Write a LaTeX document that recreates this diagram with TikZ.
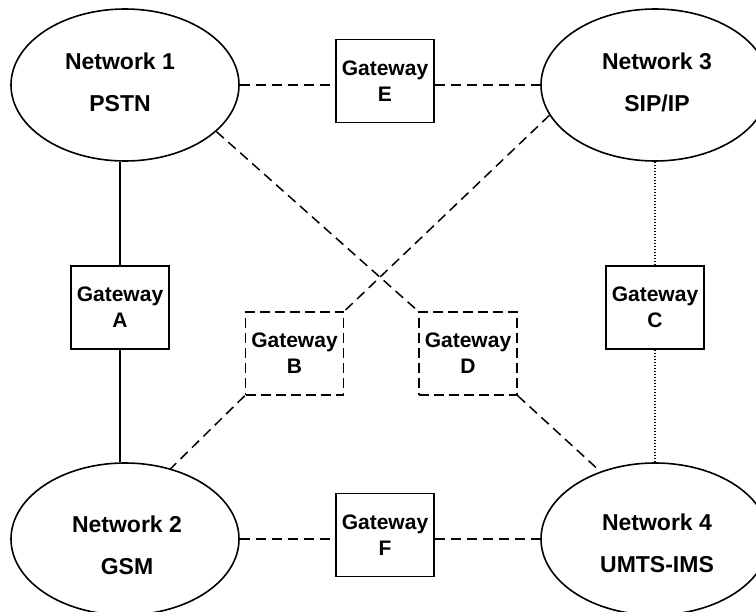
\documentclass[tikz,border=0pt]{standalone}
\usepackage{fontspec}
\setmainfont{Liberation Sans}
\usetikzlibrary{shapes.geometric}
\begin{document}
\begin{tikzpicture}[x=1pt,y=-1pt,
  net/.style={ellipse, draw, line width=1.6pt, minimum width=228pt, minimum height=152pt, inner sep=0pt},
  nettext/.style={align=center, inner sep=0pt, font=\fontsize{23}{42}\selectfont\bfseries},
  gw/.style={rectangle, draw, line width=1.6pt, minimum width=98pt, minimum height=83pt,
    inner sep=0pt, align=center, font=\fontsize{21}{26}\selectfont\bfseries},
  gwdash/.style={gw, dash pattern=on 10pt off 5pt},
  link/.style={line width=1.5pt},
  dlink/.style={link, dash pattern=on 10pt off 6pt},
  olink/.style={line width=1.5pt, dash pattern=on 1.5pt off 1.5pt}]
\useasboundingbox (0,0) rectangle (756,612);

% networks
\node[net] (N1) at (125,85) {};
\node[net] (N3) at (655,85) {};
\node[net] (N2) at (125,539) {};
\node[net] (N4) at (655,539) {};
\node[nettext] (N1t) at (120,82) {Network 1\\PSTN};
\node[nettext] (N3t) at (657,82) {Network 3\\SIP/IP};
\node[nettext] (N2t) at (127,545) {Network 2\\GSM};
\node[nettext] (N4t) at (657,543) {Network 4\\UMTS-IMS};

% gateways
\node[gw] (A) at (120,307.5) {Gateway\\A};
\node[gwdash] (B) at (294.5,353.5) {Gateway\\B};
\node[gw] (C) at (655,307.5) {Gateway\\C};
\node[gwdash] (D) at (468,353.5) {Gateway\\D};
\node[gw] (E) at (385,81) {Gateway\\E};
\node[gw] (F) at (385,535) {Gateway\\F};

% links
\draw[link] (A.north) -- (A.north |- N1.south);
\draw[link] (A.south) -- (A.south |- N2.north);
\draw[olink] (C.north) -- (C.north |- N3.south);
\draw[olink] (C.south) -- (C.south |- N4.north);
\draw[dlink] (N1.east) -- (N1.east -| E.west);
\draw[dlink] (E.east |- N3.west) -- (N3.west);
\draw[dlink] (N2.east) -- (N2.east -| F.west);
\draw[dlink] (F.east |- N4.west) -- (N4.west);
\draw[dlink] (N1.-27) -- (D.north west);
\draw[dlink] (D.south east) -- (N4.129);
\draw[dlink] (N3.-164) -- (B.north east);
\draw[dlink] (B.south west) -- (N2.57);
\end{tikzpicture}
\end{document}
